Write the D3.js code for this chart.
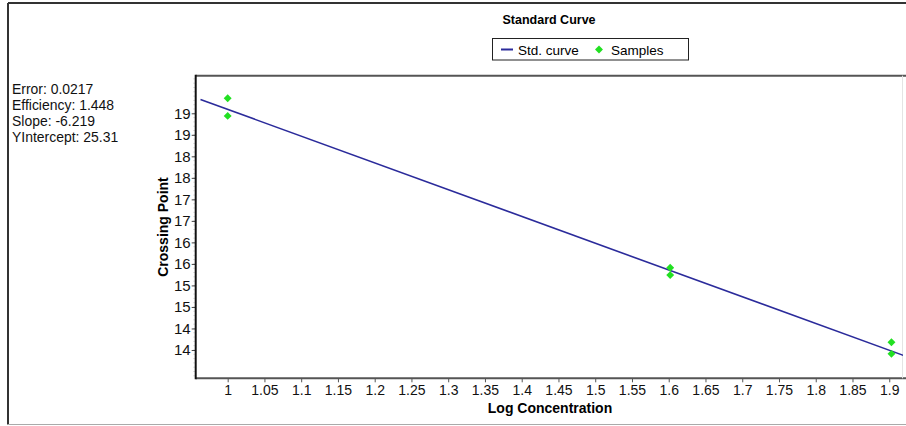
<!DOCTYPE html>
<html>
<head>
<meta charset="utf-8">
<script src="https://cdn.jsdelivr.net/npm/d3@7"></script>
<style>
  html, body { margin: 0; padding: 0; background: #fff; }
  svg { display: block; font-family: "Liberation Sans", Arial, sans-serif; }
</style>
</head>
<body>
<svg id="chart" width="906" height="426"></svg>
<script>
// Sample measurements: log concentration vs crossing point
const sampleX = [1, 1, 1.602, 1.602, 1.903, 1.903];
const sampleY = [19.35, 18.94, 15.41, 15.24, 13.68, 13.41];

// Fitted standard curve: y = slope * x + intercept
const fitSlope = -6.219;
const fitIntercept = 25.31;
const curveX = [0.963, 1.925];

// Fit statistics shown beside the plot
const statLabels = ["Error: 0.0217", "Efficiency: 1.448", "Slope: -6.219", "YIntercept: 25.31"];

// Axis ticks
const xTickValues = [1, 1.05, 1.1, 1.15, 1.2, 1.25, 1.3, 1.35, 1.4, 1.45, 1.5, 1.55, 1.6, 1.65, 1.7, 1.75, 1.8, 1.85, 1.9];
const xTickLabels = ["1", "1.05", "1.1", "1.15", "1.2", "1.25", "1.3", "1.35", "1.4", "1.45", "1.5", "1.55", "1.6", "1.65", "1.7", "1.75", "1.8", "1.85", "1.9"];
const yTickValues = [19, 18.5, 18, 17.5, 17, 16.5, 16, 15.5, 15, 14.5, 14, 13.5];
const yTickLabels = ["19", "19", "18", "18", "17", "17", "16", "16", "15", "15", "14", "14"];

const svg = d3.select("#chart");
const W = 906, H = 426;

const plot = { left: 195.7, right: 903, top: 75.7, bottom: 378.3 };

const x = d3.scaleLinear().domain([0.9565, 1.9187]).range([plot.left, plot.right]);
const y = d3.scaleLinear().domain([12.842, 19.874]).range([plot.bottom, plot.top]);

// Outer frame
svg.append("line").attr("x1", 8).attr("x2", W).attr("y1", 3).attr("y2", 3)
  .attr("stroke", "#333").attr("stroke-width", 2);
svg.append("line").attr("x1", 8).attr("x2", 8).attr("y1", 3).attr("y2", 424.5)
  .attr("stroke", "#333").attr("stroke-width", 2);
svg.append("line").attr("x1", 8).attr("x2", W).attr("y1", 424.5).attr("y2", 424.5)
  .attr("stroke", "#aaa").attr("stroke-width", 1);

// Title
svg.append("text").attr("x", 549).attr("y", 23.5).attr("text-anchor", "middle")
  .attr("font-size", 12.5).attr("font-weight", "bold").attr("fill", "#000")
  .text("Standard Curve");

// Legend
const lg = svg.append("g");
lg.append("rect").attr("x", 492.5).attr("y", 38.5).attr("width", 196).attr("height", 21.5)
  .attr("fill", "#fff").attr("stroke", "#222").attr("stroke-width", 1);
lg.append("line").attr("x1", 501).attr("x2", 513).attr("y1", 49.5).attr("y2", 49.5)
  .attr("stroke", "#2b2b9b").attr("stroke-width", 2);
lg.append("text").attr("x", 518).attr("y", 54.5).attr("font-size", 13.5).attr("fill", "#000")
  .text("Std. curve");
const diamond = d3.symbol().type(d3.symbolDiamond2 || d3.symbolDiamond).size(40);
lg.append("path").attr("d", diamond()).attr("transform", "translate(599,49.5)")
  .attr("fill", "#22e022");
lg.append("text").attr("x", 611).attr("y", 54.5).attr("font-size", 13.5).attr("fill", "#000")
  .text("Samples");

// Statistics block (slightly condensed face)
svg.append("g").selectAll("text").data(statLabels).join("text")
  .attr("transform", (d, i) => `translate(12,${93.5 + i * 16}) scale(0.9,1)`)
  .attr("font-size", 15.5).attr("fill", "#111")
  .text(d => d);

// Clip for plot contents
svg.append("clipPath").attr("id", "plotClip").append("rect")
  .attr("x", plot.left).attr("y", plot.top)
  .attr("width", plot.right - plot.left).attr("height", plot.bottom - plot.top);

// Y minor ticks
const yMinor = d3.range(129, 199).map(v => v / 10);
svg.append("g").selectAll("line").data(yMinor).join("line")
  .attr("x1", plot.left - 2.5).attr("x2", plot.left)
  .attr("y1", d => y(d)).attr("y2", d => y(d))
  .attr("stroke", "#dcdcdc").attr("stroke-width", 1);

// Y axis
const yAxis = d3.axisLeft(y).tickValues(yTickValues)
  .tickFormat((d, i) => yTickLabels[i]).tickSize(4).tickPadding(1);
const gy = svg.append("g").attr("transform", `translate(${plot.left},0)`).call(yAxis);
gy.select(".domain").remove();
gy.selectAll(".tick line").attr("stroke", "#444");
gy.selectAll(".tick text").attr("font-size", 15).attr("fill", "#111")
  .attr("font-family", "'Liberation Sans', Arial, sans-serif");

// X axis
const xAxis = d3.axisBottom(x).tickValues(xTickValues)
  .tickFormat((d, i) => xTickLabels[i]).tickSize(4).tickPadding(3);
const gx = svg.append("g").attr("transform", `translate(0,${plot.bottom})`).call(xAxis);
gx.select(".domain").remove();
gx.selectAll(".tick line").attr("stroke", "#555");
gx.selectAll(".tick text").attr("font-size", 14).attr("fill", "#111")
  .attr("font-family", "'Liberation Sans', Arial, sans-serif");

// Plot frame lines
svg.append("line").attr("x1", plot.left).attr("x2", W).attr("y1", plot.top).attr("y2", plot.top)
  .attr("stroke", "#555").attr("stroke-width", 2);
svg.append("line").attr("x1", plot.left).attr("x2", W).attr("y1", plot.bottom).attr("y2", plot.bottom)
  .attr("stroke", "#555").attr("stroke-width", 2);
svg.append("line").attr("x1", plot.left).attr("x2", plot.left).attr("y1", plot.top - 1).attr("y2", plot.bottom + 1)
  .attr("stroke", "#111").attr("stroke-width", 2);
svg.append("line").attr("x1", 902.5).attr("x2", 902.5).attr("y1", plot.top).attr("y2", plot.bottom)
  .attr("stroke", "#e4e4e4").attr("stroke-width", 1);

// Axis titles
svg.append("text").attr("x", 550).attr("y", 413).attr("text-anchor", "middle")
  .attr("font-size", 14).attr("font-weight", "bold").attr("fill", "#000")
  .text("Log Concentration");
svg.append("text").attr("transform", "translate(168,227) rotate(-90)").attr("text-anchor", "middle")
  .attr("font-size", 14).attr("font-weight", "bold").attr("fill", "#000")
  .text("Crossing Point");

// Standard curve
const curveLine = d3.line().x(d => x(d)).y(d => y(fitSlope * d + fitIntercept));
svg.append("path").datum(curveX).attr("clip-path", "url(#plotClip)")
  .attr("d", curveLine).attr("fill", "none")
  .attr("stroke", "#2b2b9b").attr("stroke-width", 1.6);

// Samples
svg.append("g").attr("clip-path", "url(#plotClip)")
  .selectAll("path").data(sampleX.map((v, i) => [v, sampleY[i]])).join("path")
  .attr("d", diamond())
  .attr("transform", d => `translate(${x(d[0])},${y(d[1])})`)
  .attr("fill", "#22e022");
</script>
</body>
</html>
